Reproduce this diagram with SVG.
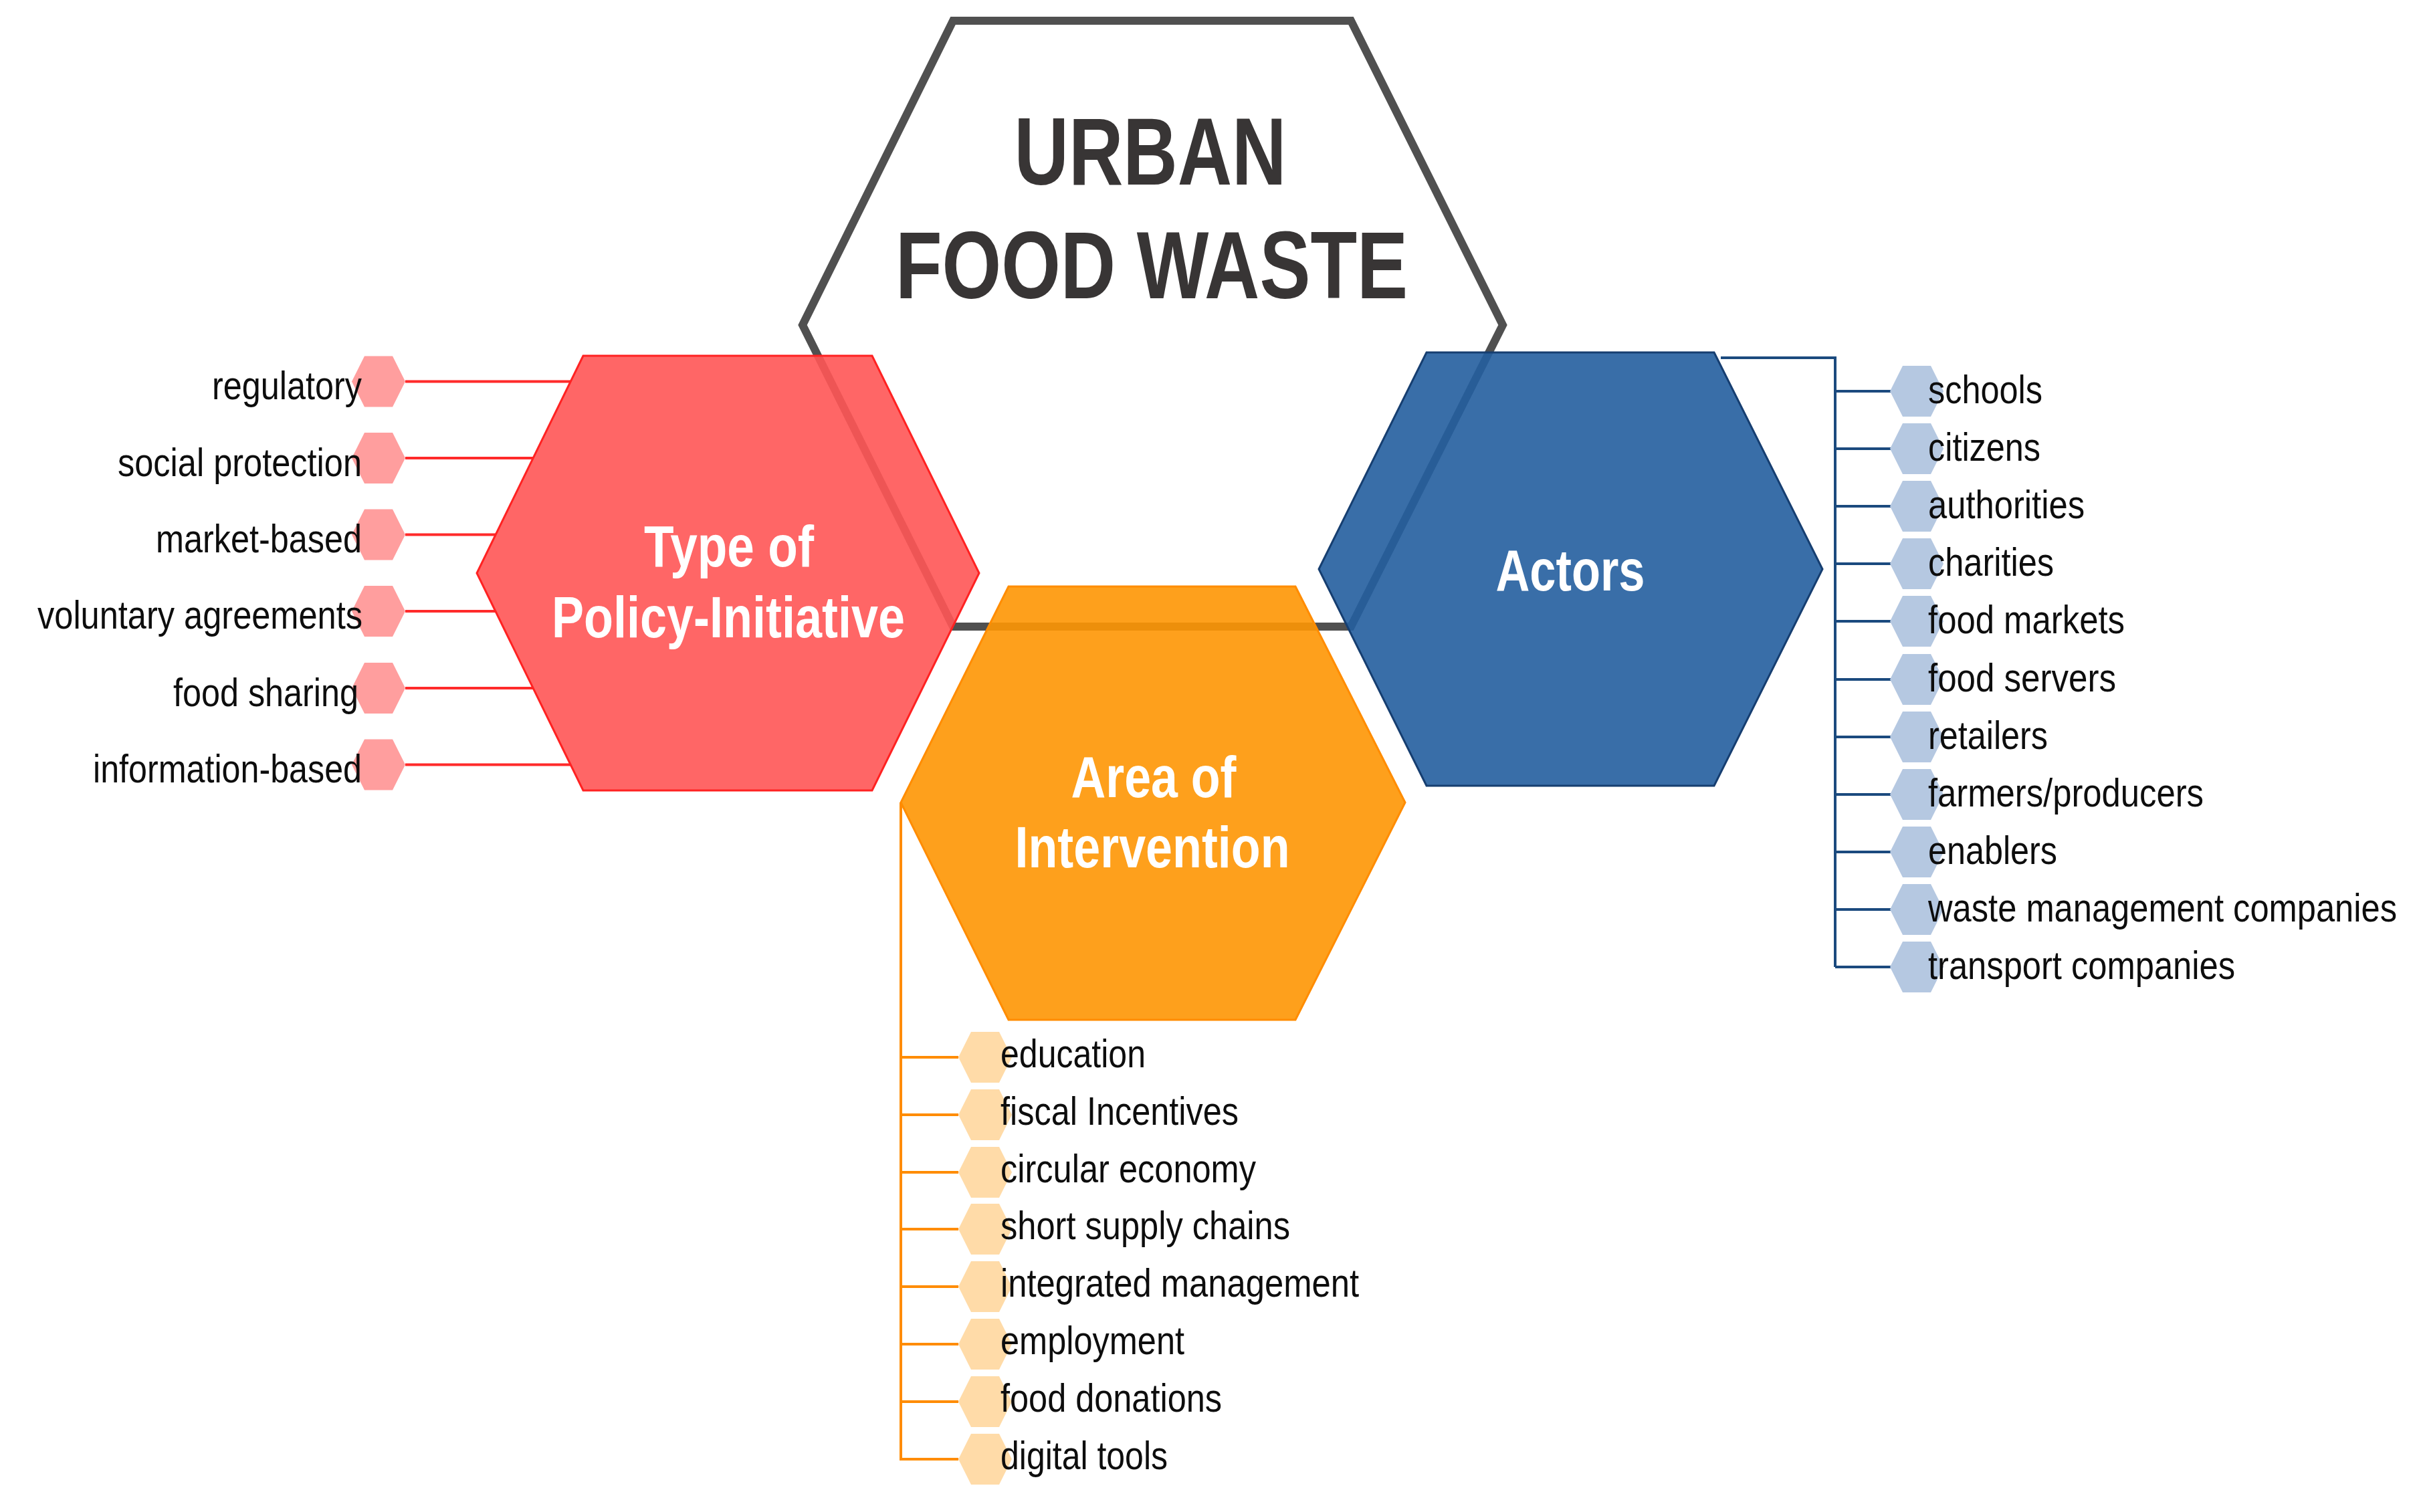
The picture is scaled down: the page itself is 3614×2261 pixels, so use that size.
<svg xmlns="http://www.w3.org/2000/svg" xmlns:xlink="http://www.w3.org/1999/xlink" width="3614" height="2261" viewBox="0 0 3614 2261">
<style>
.bg{fill:#ffffff}
.main{fill:none;stroke:#505050;stroke-width:12;stroke-linejoin:miter}
.hexR{fill:#FF5555;fill-opacity:0.9;stroke:#FF2222;stroke-width:3}
.hexB{fill:#245E9E;fill-opacity:0.9;stroke:#163E70;stroke-width:3}
.hexO{fill:#FE9603;fill-opacity:0.9;stroke:#FF8C00;stroke-width:3}
.sR{fill:#FF9E9E}
.sB{fill:#B5C8E1}
.sO{fill:#FFDBA8}
.cR{fill:none;stroke:#FF2A2A;stroke-width:4}
.cB{fill:none;stroke:#1B4A7E;stroke-width:4}
.cO{fill:none;stroke:#FF8C00;stroke-width:4}
.title{font-family:'Liberation Sans Narrow','Liberation Sans',Arial,sans-serif;font-weight:bold;font-size:142px;fill:#383535;text-anchor:middle}
.head{font-family:'Liberation Sans Narrow','Liberation Sans',Arial,sans-serif;font-weight:bold;font-size:87px;fill:#ffffff;text-anchor:middle}
.lbl{font-family:'Liberation Sans Narrow','Liberation Sans',Arial,sans-serif;font-size:60px;fill:#0d0d0d}
.lblO{font-family:'Liberation Sans Narrow','Liberation Sans',Arial,sans-serif;font-size:59px;fill:#0d0d0d}
.end{text-anchor:end}
</style>
<defs>
<polygon id="sh" points="-40,0 -21,-38 21,-38 40,0 21,38 -21,38"/>
</defs>
<rect class="bg" x="0" y="0" width="3614" height="2261"/>

<g id="urban-food-waste">
<polygon class="main" points="1425,31 2020,31 2247,486 2020,937 1425,937 1200,486"/>
<text class="title" x="1720" y="276" textLength="407" lengthAdjust="spacingAndGlyphs">URBAN</text>
<text class="title" x="1722" y="446" textLength="766" lengthAdjust="spacingAndGlyphs">FOOD WASTE</text>
</g>

<g id="connectors">
<g id="conn-policy">
<line class="cR" x1="606" y1="570.5" x2="853" y2="570.5"/>
<line class="cR" x1="606" y1="685" x2="797" y2="685"/>
<line class="cR" x1="606" y1="799.5" x2="742" y2="799.5"/>
<line class="cR" x1="606" y1="914" x2="741" y2="914"/>
<line class="cR" x1="606" y1="1029" x2="797" y2="1029"/>
<line class="cR" x1="606" y1="1143.5" x2="853" y2="1143.5"/>
</g>
<g id="conn-actors">
<polyline class="cB" points="2573,535 2744,535 2744,1446"/>
<line class="cB" x1="2744" y1="585" x2="2828" y2="585"/>
<line class="cB" x1="2744" y1="671" x2="2828" y2="671"/>
<line class="cB" x1="2744" y1="757" x2="2828" y2="757"/>
<line class="cB" x1="2744" y1="843" x2="2828" y2="843"/>
<line class="cB" x1="2744" y1="929" x2="2828" y2="929"/>
<line class="cB" x1="2744" y1="1016" x2="2828" y2="1016"/>
<line class="cB" x1="2744" y1="1102" x2="2828" y2="1102"/>
<line class="cB" x1="2744" y1="1188" x2="2828" y2="1188"/>
<line class="cB" x1="2744" y1="1274" x2="2828" y2="1274"/>
<line class="cB" x1="2744" y1="1360" x2="2828" y2="1360"/>
<line class="cB" x1="2744" y1="1446" x2="2828" y2="1446"/>
</g>
<g id="conn-area">
<polyline class="cO" points="1347,1200 1347,2182 1433,2182"/>
<line class="cO" x1="1347" y1="1581" x2="1433" y2="1581"/>
<line class="cO" x1="1347" y1="1667" x2="1433" y2="1667"/>
<line class="cO" x1="1347" y1="1753" x2="1433" y2="1753"/>
<line class="cO" x1="1347" y1="1838" x2="1433" y2="1838"/>
<line class="cO" x1="1347" y1="1924" x2="1433" y2="1924"/>
<line class="cO" x1="1347" y1="2010" x2="1433" y2="2010"/>
<line class="cO" x1="1347" y1="2096" x2="1433" y2="2096"/>
</g>
</g>

<g id="policy">
<polygon class="hexR" points="872,532 1304,532 1464,857 1304,1182 872,1182 713,857"/>
<text class="head" x="1090" y="847" textLength="254" lengthAdjust="spacingAndGlyphs">Type of</text>
<text class="head" x="1089" y="953" textLength="528" lengthAdjust="spacingAndGlyphs">Policy-Initiative</text>
</g>

<g id="actors">
<polygon class="hexB" points="2133,527 2563,527 2725,851 2563,1175 2133,1175 1972,851"/>
<text class="head" x="2348" y="883" textLength="223" lengthAdjust="spacingAndGlyphs">Actors</text>
</g>

<g id="area">
<polygon class="hexO" points="1508,877 1937,877 2101,1200 1937,1525 1508,1525 1347,1200"/>
<text class="head" x="1725" y="1192" textLength="247" lengthAdjust="spacingAndGlyphs">Area of</text>
<text class="head" x="1723" y="1297" textLength="411" lengthAdjust="spacingAndGlyphs">Intervention</text>
</g>

<g id="policy-items">
<g id="p-regulatory"><use href="#sh" class="sR" x="566" y="570.5"/><text class="lbl end" x="541" y="597" textLength="224" lengthAdjust="spacingAndGlyphs">regulatory</text></g>
<g id="p-social"><use href="#sh" class="sR" x="566" y="685"/><text class="lbl end" x="541" y="712" textLength="365" lengthAdjust="spacingAndGlyphs">social protection</text></g>
<g id="p-market"><use href="#sh" class="sR" x="566" y="799.5"/><text class="lbl end" x="541" y="826" textLength="308" lengthAdjust="spacingAndGlyphs">market-based</text></g>
<g id="p-voluntary"><use href="#sh" class="sR" x="566" y="914"/><text class="lbl end" x="542" y="940" textLength="486" lengthAdjust="spacingAndGlyphs">voluntary agreements</text></g>
<g id="p-sharing"><use href="#sh" class="sR" x="566" y="1029"/><text class="lbl end" x="536" y="1056" textLength="277" lengthAdjust="spacingAndGlyphs">food sharing</text></g>
<g id="p-info"><use href="#sh" class="sR" x="566" y="1143.5"/><text class="lbl end" x="541" y="1170" textLength="402" lengthAdjust="spacingAndGlyphs">information-based</text></g>
</g>

<g id="actor-items">
<g id="a-schools"><use href="#sh" class="sB" x="2866" y="585"/><text class="lbl" x="2883" y="603" textLength="171" lengthAdjust="spacingAndGlyphs">schools</text></g>
<g id="a-citizens"><use href="#sh" class="sB" x="2866" y="671"/><text class="lbl" x="2883" y="689" textLength="168" lengthAdjust="spacingAndGlyphs">citizens</text></g>
<g id="a-authorities"><use href="#sh" class="sB" x="2866" y="757"/><text class="lbl" x="2883" y="775" textLength="234" lengthAdjust="spacingAndGlyphs">authorities</text></g>
<g id="a-charities"><use href="#sh" class="sB" x="2866" y="843"/><text class="lbl" x="2883" y="861" textLength="188" lengthAdjust="spacingAndGlyphs">charities</text></g>
<g id="a-markets"><use href="#sh" class="sB" x="2866" y="929"/><text class="lbl" x="2883" y="947" textLength="294" lengthAdjust="spacingAndGlyphs">food markets</text></g>
<g id="a-servers"><use href="#sh" class="sB" x="2866" y="1016"/><text class="lbl" x="2883" y="1034" textLength="281" lengthAdjust="spacingAndGlyphs">food servers</text></g>
<g id="a-retailers"><use href="#sh" class="sB" x="2866" y="1102"/><text class="lbl" x="2883" y="1120" textLength="179" lengthAdjust="spacingAndGlyphs">retailers</text></g>
<g id="a-farmers"><use href="#sh" class="sB" x="2866" y="1188"/><text class="lbl" x="2883" y="1206" textLength="412" lengthAdjust="spacingAndGlyphs">farmers/producers</text></g>
<g id="a-enablers"><use href="#sh" class="sB" x="2866" y="1274"/><text class="lbl" x="2883" y="1292" textLength="193" lengthAdjust="spacingAndGlyphs">enablers</text></g>
<g id="a-waste"><use href="#sh" class="sB" x="2866" y="1360"/><text class="lbl" x="2883" y="1378" textLength="701" lengthAdjust="spacingAndGlyphs">waste management companies</text></g>
<g id="a-transport"><use href="#sh" class="sB" x="2866" y="1446"/><text class="lbl" x="2883" y="1464" textLength="459" lengthAdjust="spacingAndGlyphs">transport companies</text></g>
</g>

<g id="area-items">
<g id="i-education"><use href="#sh" class="sO" x="1473" y="1581"/><text class="lblO" x="1496" y="1596" textLength="217" lengthAdjust="spacingAndGlyphs">education</text></g>
<g id="i-fiscal"><use href="#sh" class="sO" x="1473" y="1667"/><text class="lblO" x="1496" y="1682" textLength="356" lengthAdjust="spacingAndGlyphs">fiscal Incentives</text></g>
<g id="i-circular"><use href="#sh" class="sO" x="1473" y="1753"/><text class="lblO" x="1496" y="1768" textLength="382" lengthAdjust="spacingAndGlyphs">circular economy</text></g>
<g id="i-short"><use href="#sh" class="sO" x="1473" y="1838"/><text class="lblO" x="1496" y="1853" textLength="433" lengthAdjust="spacingAndGlyphs">short supply chains</text></g>
<g id="i-integrated"><use href="#sh" class="sO" x="1473" y="1924"/><text class="lblO" x="1496" y="1939" textLength="536" lengthAdjust="spacingAndGlyphs">integrated management</text></g>
<g id="i-employment"><use href="#sh" class="sO" x="1473" y="2010"/><text class="lblO" x="1496" y="2025" textLength="275" lengthAdjust="spacingAndGlyphs">employment</text></g>
<g id="i-donations"><use href="#sh" class="sO" x="1473" y="2096"/><text class="lblO" x="1496" y="2111" textLength="331" lengthAdjust="spacingAndGlyphs">food donations</text></g>
<g id="i-digital"><use href="#sh" class="sO" x="1473" y="2182"/><text class="lblO" x="1496" y="2197" textLength="250" lengthAdjust="spacingAndGlyphs">digital tools</text></g>
</g>
</svg>
